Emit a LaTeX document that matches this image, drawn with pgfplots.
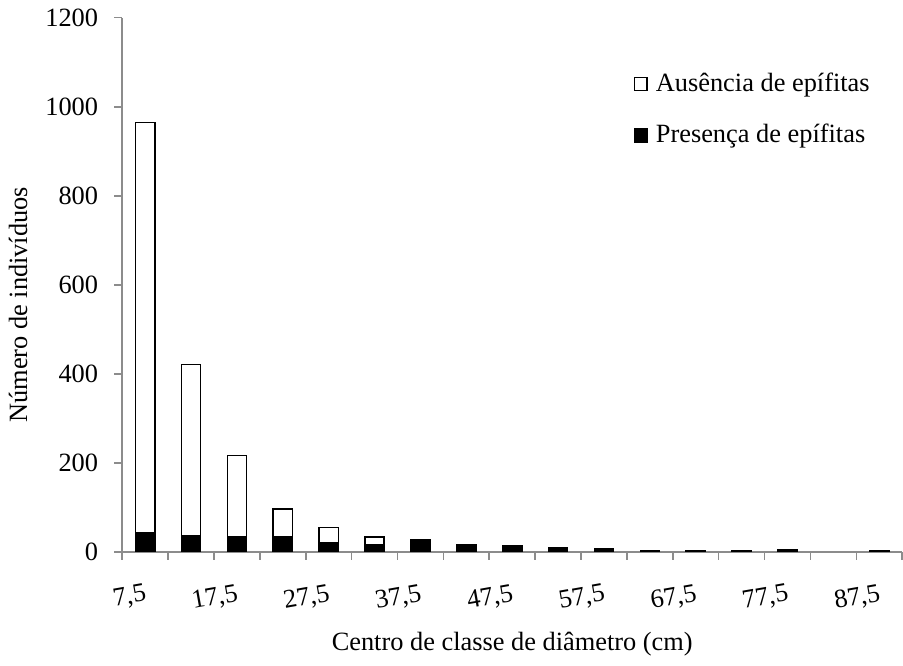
\documentclass[border=0pt,12pt]{standalone}
\usepackage{fontspec}
\setmainfont{Liberation Serif}
\usepackage{pgfplots}
\pgfplotsset{compat=1.18}
\definecolor{axisgray}{RGB}{140,140,140}
\begin{document}
\fontsize{13.2}{15.5}\selectfont
\begin{tikzpicture}
\begin{axis}[
  scale only axis,
  width=390.5pt, height=267.5pt,
  ybar stacked,
  bar width=0.42,
  xmin=-0.5, xmax=16.5,
  ymin=0, ymax=1200,
  ytick={0,200,...,1200},
  xtick={0,2,...,16},
  xticklabels={{7,5},{17,5},{27,5},{37,5},{47,5},{57,5},{67,5},{77,5},{87,5}},
  minor xtick={-0.5,0.5,...,16.5},
  major x tick style={draw=none},
  tick align=outside,
  major tick length=4pt,
  minor tick length=4pt,
  tick style={color=axisgray, line width=0.8pt},
  axis x line*=bottom,
  axis y line*=left,
  axis line style={color=axisgray, line width=0.8pt},
  /pgf/number format/assume math mode=true,
  /pgf/number format/1000 sep={},
  tick label style={font=\fontsize{13.2}{15.5}\selectfont},
  label style={font=\fontsize{13.2}{15.5}\selectfont},
  xticklabel style={rotate=10, anchor=north east, xshift=2pt, yshift=-7pt},
  yticklabel style={xshift=-3.5pt},
  xlabel={Centro de classe de diâmetro (cm)},
  ylabel={Número de indivíduos},
  xlabel style={yshift=0pt},
  ylabel style={yshift=0pt, xshift=-10pt},
  legend style={at={(0.655,0.905)}, anchor=north west, draw=none, fill=none,
    row sep=10.5pt, font=\fontsize{13.2}{15.5}\selectfont, inner sep=0pt,
    nodes={inner xsep=2pt}},
  legend cell align=left,
  reverse legend,
  legend image code/.code={\draw[#1, line width=0.7pt] (0pt,-3.25pt) rectangle (6.5pt,3.25pt);},
  legend style={/tikz/every odd column/.append style={column sep=2pt}},
]
\addplot[fill=black, draw=black, line width=0.7pt] coordinates {
(0,43) (1,36) (2,34) (3,34) (4,20) (5,16) (6,24) (7,16) (8,13) (9,10) (10,7) (11,3) (12,3) (13,3) (14,4) (15,0) (16,3)};
\addplot[fill=white, draw=black, line width=0.8pt] coordinates {
(0,922) (1,385) (2,183) (3,63) (4,35) (5,18) (6,4) (7,0) (8,0) (9,0) (10,0) (11,0) (12,0) (13,0) (14,0) (15,0) (16,0)};
\legend{Presença de epífitas, Ausência de epífitas}
\end{axis}
\end{tikzpicture}
\end{document}
